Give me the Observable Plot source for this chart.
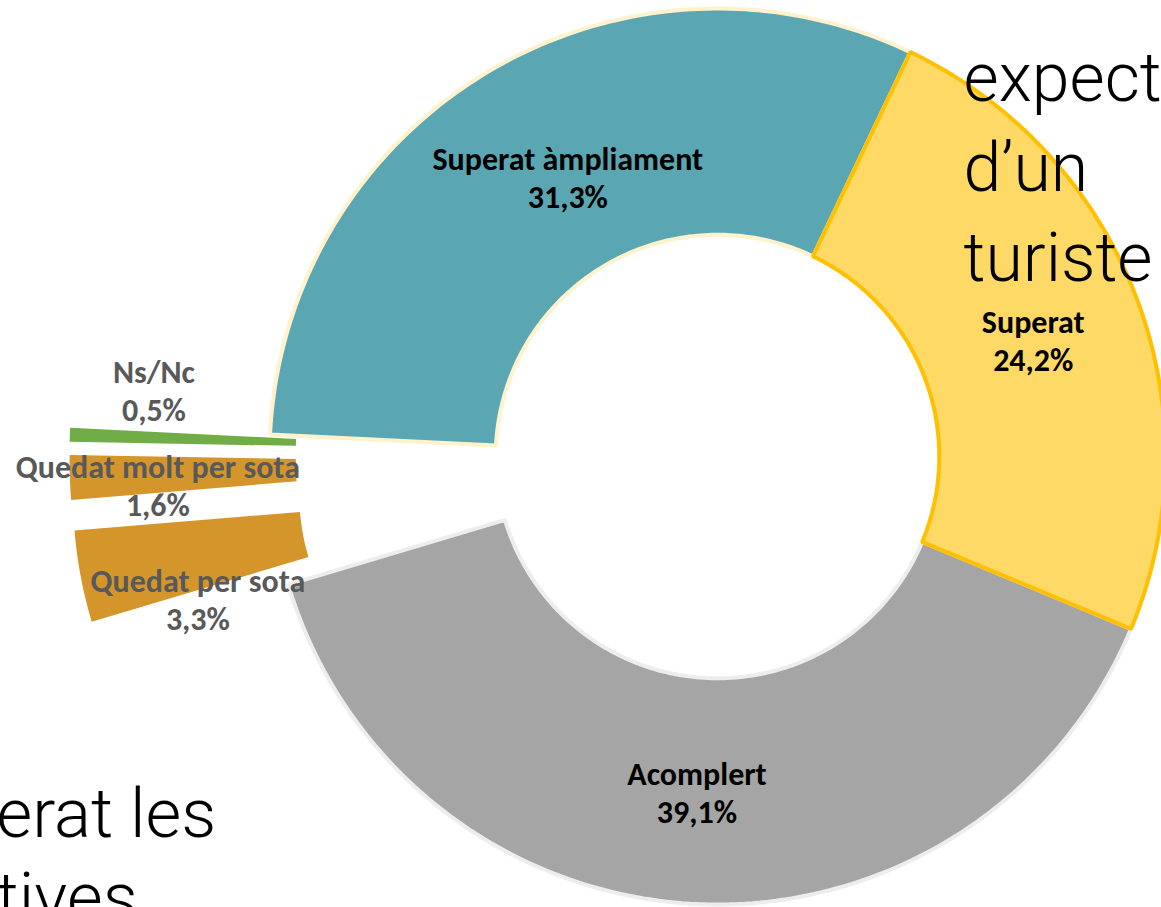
<!DOCTYPE html>
<html>
<head>
<meta charset="utf-8">
<script src="https://cdn.jsdelivr.net/npm/d3@7"></script>
<script src="https://cdn.jsdelivr.net/npm/@observablehq/plot@0.6"></script>
<style>
  html, body { margin: 0; padding: 0; background: #fff; overflow: hidden; }
  #chart svg { display: block; }
</style>
</head>
<body>
<div id="chart"></div>
<script>
// ---------------- data ----------------
const categories = ["Superat", "Acomplert", "Quedat per sota", "Quedat molt per sota", "Ns/Nc", "Superat àmpliament"];
const values = [24.2, 39.1, 3.3, 1.6, 0.5, 31.3];
const valueLabels = ["24,2%", "39,1%", "3,3%", "1,6%", "0,5%", "31,3%"];
const explodedSlices = ["Quedat per sota", "Quedat molt per sota", "Ns/Nc"];
const backgroundTextRight = ["expect", "d’un", "turiste"];
const backgroundTextLeft = ["erat les", "tives"];

// ---------------- styles / layout ----------------
const W = 1161, H = 907;
const CX = 717, CY = 456, R = 448;            // pixel centre and outer radius
const holeRatio = 0.495;
const explodeRatio = 200 / 448;
const firstSliceAngle = 25.5;                 // degrees, clockwise from 12 o'clock
const fills = {
  "Superat": "#FFD966",
  "Acomplert": "#A5A5A5",
  "Quedat per sota": "#D4952B",
  "Quedat molt per sota": "#D4952B",
  "Ns/Nc": "#70AD47",
  "Superat àmpliament": "#5AA7B3"
};
const strokes = {
  "Superat": "#FFC000",
  "Acomplert": "#EDEDED",
  "Quedat per sota": "none",
  "Quedat molt per sota": "none",
  "Ns/Nc": "none",
  "Superat àmpliament": "#FFF2CC"
};
const drawOrder = ["Acomplert", "Superat àmpliament", "Superat", "Quedat per sota", "Quedat molt per sota", "Ns/Nc"];
const labelNudgePx = {                        // [dx, dy] in pixels
  "Superat": [3, 3],
  "Acomplert": [-3, 1],
  "Quedat per sota": [6, 43],
  "Quedat molt per sota": [-25, 11],
  "Ns/Nc": [-29, -49],
  "Superat àmpliament": [22, 8]
};
const labelFont = "Calibri, Carlito, Lato, 'Open Sans', sans-serif";
const bigFont = "'Helvetica Neue', Roboto, Lato, sans-serif";

// ---------------- geometry from data ----------------
const rows = categories.map((c, i) => ({category: c, value: values[i], label: valueLabels[i]}));
const start = firstSliceAngle * Math.PI / 180;
const arcs = d3.pie().sort(null).value(d => d.value).startAngle(start).endAngle(start + 2 * Math.PI)(rows);

const inner = holeRatio, outer = 1;
const polyPoints = [];
const labelRows = [];
for (const name of drawOrder) {
  const a = arcs.find(d => d.data.category === name);
  const mid = (a.startAngle + a.endAngle) / 2;
  const off = explodedSlices.includes(name) ? explodeRatio : 0;
  const ox = off * Math.sin(mid), oy = off * Math.cos(mid);
  const n = Math.max(4, Math.ceil((a.endAngle - a.startAngle) * 180 / Math.PI));
  for (let i = 0; i <= n; i++) {
    const t = a.startAngle + (a.endAngle - a.startAngle) * i / n;
    polyPoints.push({category: name, x: ox + outer * Math.sin(t), y: oy + outer * Math.cos(t), fill: fills[name], stroke: strokes[name]});
  }
  for (let i = n; i >= 0; i--) {
    const t = a.startAngle + (a.endAngle - a.startAngle) * i / n;
    polyPoints.push({category: name, x: ox + inner * Math.sin(t), y: oy + inner * Math.cos(t), fill: fills[name], stroke: strokes[name]});
  }
  const rm = (inner + outer) / 2;
  const [ndx, ndy] = labelNudgePx[name];
  labelRows.push({
    category: name,
    x: ox + rm * Math.sin(mid) + ndx / R,
    y: oy + rm * Math.cos(mid) - ndy / R,
    text: name + "\n" + a.data.label,
    color: off ? "#595959" : "#000000"
  });
}

const chart = Plot.plot({
  width: W,
  height: H,
  margin: 0,
  style: {background: "#fff", overflow: "hidden"},
  x: {axis: null, domain: [-CX / R, (W - CX) / R]},
  y: {axis: null, domain: [(CY - H) / R, CY / R]},
  color: {type: "identity"},
  marks: [
    Plot.line(polyPoints, {
      x: "x", y: "y", z: "category",
      fill: "fill", stroke: "stroke",
      strokeWidth: 4, strokeLinejoin: "miter",
      curve: "linear-closed"
    }),
    Plot.text(labelRows, {
      x: "x", y: "y", text: "text", fill: "color",
      fontSize: 32, fontWeight: "bold", fontFamily: labelFont,
      lineHeight: 1.19
    }),
    Plot.text([backgroundTextRight.join("\n")], {
      frameAnchor: "top-left", textAnchor: "start", lineAnchor: "top",
      dx: 963, dy: 37,
      fontSize: 68, fontWeight: 300, fontFamily: bigFont,
      lineHeight: 1.32, fill: "#000"
    }),
    Plot.text([backgroundTextLeft.join("\n")], {
      frameAnchor: "top-left", textAnchor: "start", lineAnchor: "top",
      dx: -4, dy: 777,
      fontSize: 69, fontWeight: 300, fontFamily: bigFont,
      lineHeight: 1.22, fill: "#000"
    })
  ]
});
document.getElementById("chart").appendChild(chart);
</script>
</body>
</html>
